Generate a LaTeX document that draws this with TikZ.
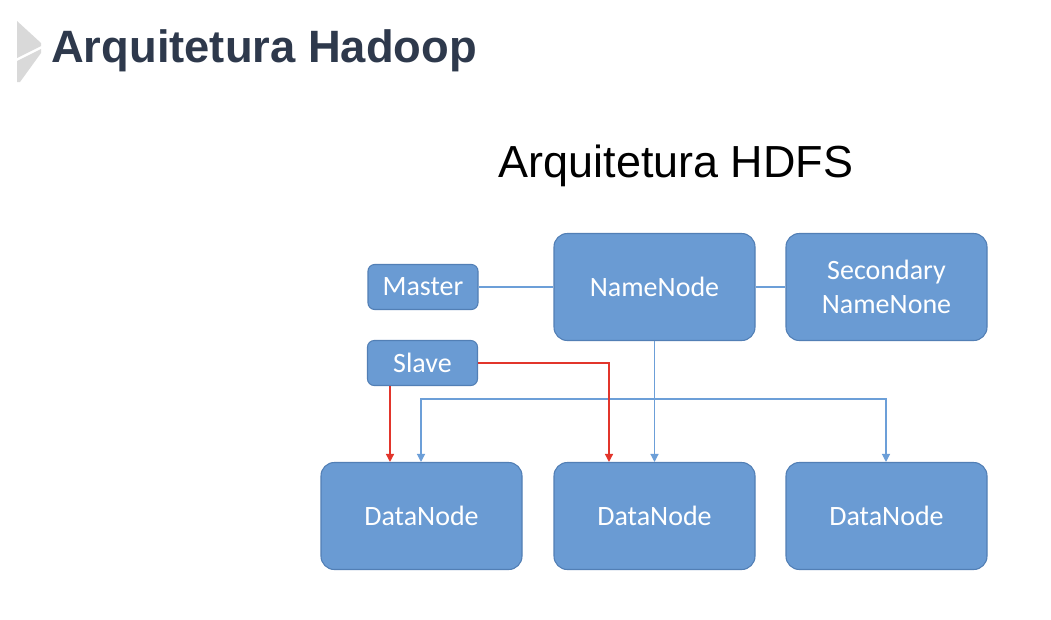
\documentclass[tikz,border=0pt]{standalone}
\usepackage{fontspec}
\setmainfont{Liberation Sans}
\newfontfamily\boxfont{Carlito}
\usetikzlibrary{arrows.meta}
\definecolor{boxfill}{HTML}{6A9BD3}
\definecolor{boxedge}{HTML}{527FB5}
\definecolor{linkblue}{HTML}{6C9FD8}
\definecolor{linkred}{HTML}{E2352B}
\definecolor{titlecol}{HTML}{2E394C}
\definecolor{chev}{HTML}{D9D9D9}
\tikzset{
  bigbox/.style={draw=boxedge, line width=0.8pt, fill=boxfill, rounded corners=10pt,
    minimum width=201*0.75pt, minimum height=107*0.75pt, inner sep=0pt,
    text=white, font=\boxfont\fontsize{21}{25}\selectfont, align=center},
  smallbox/.style={draw=boxedge, line width=0.8pt, fill=boxfill, rounded corners=5pt,
    minimum width=110*0.75pt, minimum height=45*0.75pt, inner sep=0pt,
    text=white, font=\boxfont\fontsize{21}{25}\selectfont},
  bluelink/.style={draw=linkblue, line width=0.9pt},
  redlink/.style={draw=linkred, line width=1pt},
  tip/.style={-{Triangle[length=6pt,width=6pt]}},
}
\begin{document}
\begin{tikzpicture}[x=0.75pt,y=-0.75pt]
\useasboundingbox (0,0) rectangle (1051,619);
\fill[white] (0,0) rectangle (1051,619);
% chevron logo
\fill[chev] (17,21) -- (41,43) -- (41,46) -- (17,58) -- cycle;
\fill[chev] (17,61) -- (41,49) -- (41,53) -- (20,82) -- (17,82) -- cycle;
% titles
\node[anchor=base west, text=titlecol, font=\bfseries\fontsize{34}{40}\selectfont, inner sep=0pt] (title) at (51,62) {Arquitetura Hadoop};
\node[anchor=base, font=\fontsize{33.7}{40}\selectfont, inner sep=0pt] (sub) at (676,177) {Arquitetura HDFS};
% nodes
\node[smallbox] (master) at (423,287) {Master};
\node[smallbox] (slave) at (422.5,363) {Slave};
\node[bigbox] (nn) at (654.5,287) {NameNode};
\node[bigbox] (snn) at (886.5,287) {Secondary\\NameNone};
\node[bigbox] (dn1) at (421.5,516) {DataNode};
\node[bigbox] (dn2) at (654.5,516) {DataNode};
\node[bigbox] (dn3) at (886.5,516) {DataNode};
% coordinates
\coordinate (j) at (654.5,399);
\coordinate (jl) at (421,399);
\coordinate (jr) at (886,399);
\coordinate (sr) at (609,363);
\coordinate (sb) at (390,363);
% connectors
\draw[bluelink] (master.east) -- (nn.west);
\draw[bluelink] (nn.east) -- (snn.west);
\draw[bluelink, tip] (nn.south) -- (dn2.north);
\draw[bluelink, tip] (j) -- (jl) -- (jl |- dn1.north);
\draw[bluelink, tip] (j) -- (jr) -- (jr |- dn3.north);
\draw[redlink, tip] (sb |- slave.south) -- (sb |- dn1.north);
\draw[redlink, tip] (slave.east) -- (sr) -- (sr |- dn2.north);
\end{tikzpicture}
\end{document}
